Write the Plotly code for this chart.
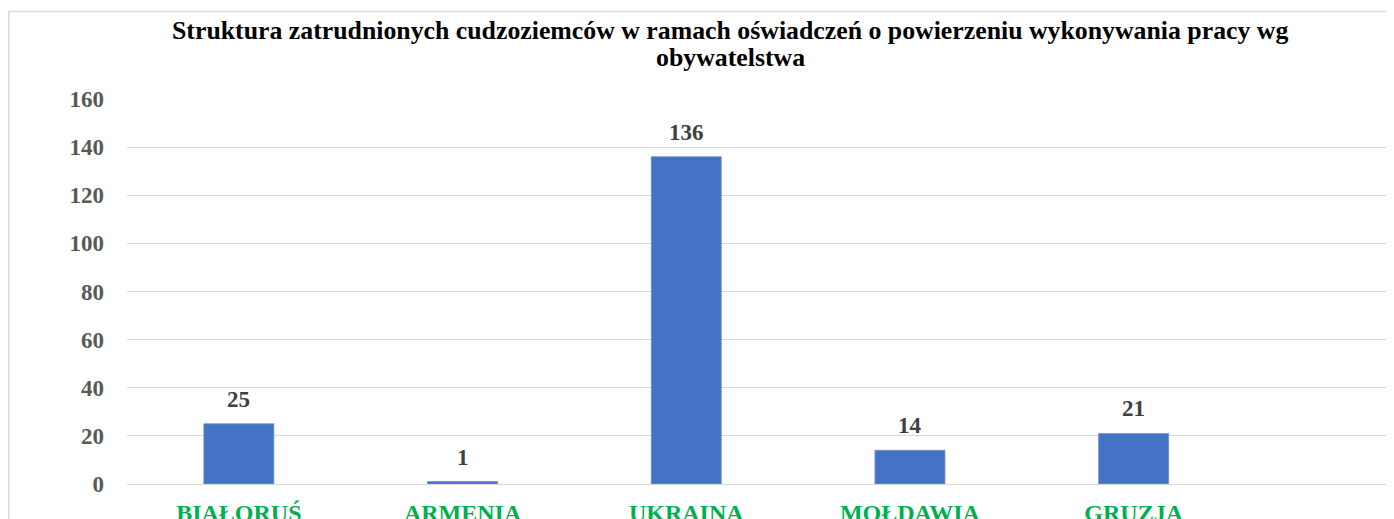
import plotly.graph_objects as go

categories = ["BIAŁORUŚ", "ARMENIA", "UKRAINA", "MOŁDAWIA", "GRUZJA"]
values = [25, 1, 136, 14, 21]
y_ticks = [0, 20, 40, 60, 80, 100, 120, 140, 160]
title_lines = [
    "Struktura zatrudnionych cudzoziemców w ramach oświadczeń o powierzeniu wykonywania pracy wg",
    "obywatelstwa",
]

# the page body adds an 8px offset; positions below are in figure pixels
OFF = 8
W, H = 1394, 519
L, R, T, B = 127 - OFF, 0, 98.5 - OFF, H - (484 - OFF)
pw = W - L - R
ph = H - T - B
band = 223.7

FONT = "Liberation Serif"

fig = go.Figure()
fig.add_trace(go.Bar(
    x=categories, y=values,
    marker=dict(color="#4472C4", line=dict(color="#6f92d6", width=0.8)),
    width=0.313,
    hoverinfo="x+y",
))

for c, v in zip(categories, values):
    fig.add_annotation(x=c, y=v, text=str(v), showarrow=False,
                       yanchor="bottom", yshift=10,
                       font=dict(family=FONT, size=23, color="#404040", weight="bold"))

# two-line title, placed line by line for tighter line spacing
title_centers_px = [30 - OFF, 56.5 - OFF]
for line, ypx in zip(title_lines, title_centers_px):
    fig.add_annotation(
        text=line, showarrow=False,
        xref="paper", yref="paper",
        x=(730 - OFF - L) / pw, y=1 + (T - ypx) / ph,
        xanchor="center", yanchor="middle",
        font=dict(family=FONT, size=25.8, color="#000000", weight="bold"),
    )

# border of chart area (left and top visible)
bx = (0.8 - L) / pw
by_top = 1 + (T - (11 - OFF)) / ph
fig.add_shape(type="line", xref="paper", yref="paper", x0=bx, x1=bx, y0=-1, y1=by_top,
              line=dict(color="#d9d9d9", width=1.5))
fig.add_shape(type="line", xref="paper", yref="paper", x0=bx, x1=1.2, y0=by_top, y1=by_top,
              line=dict(color="#d9d9d9", width=1.5))

fig.update_layout(
    width=W, height=H,
    margin=dict(l=L, r=R, t=T, b=B, pad=0, autoexpand=False),
    paper_bgcolor="white", plot_bgcolor="white",
    showlegend=False,
    xaxis=dict(
        type="category", range=[-0.5, -0.5 + pw / band], automargin=False,
        showgrid=False, showline=False, zeroline=False, ticks="",
        tickfont=dict(family=FONT, size=24, color="#00B050", weight="bold"),
        ticklabelstandoff=12,
    ),
    yaxis=dict(
        range=[0, 160], tickvals=y_ticks, automargin=False,
        showgrid=True, gridcolor="#d9d9d9", gridwidth=1.3,
        zeroline=True, zerolinecolor="#d9d9d9", zerolinewidth=1.3,
        showline=False, ticks="",
        tickfont=dict(family=FONT, size=23, color="#595959", weight="bold"),
        ticklabelstandoff=22,
    ),
)

fig.write_html("out.html")
